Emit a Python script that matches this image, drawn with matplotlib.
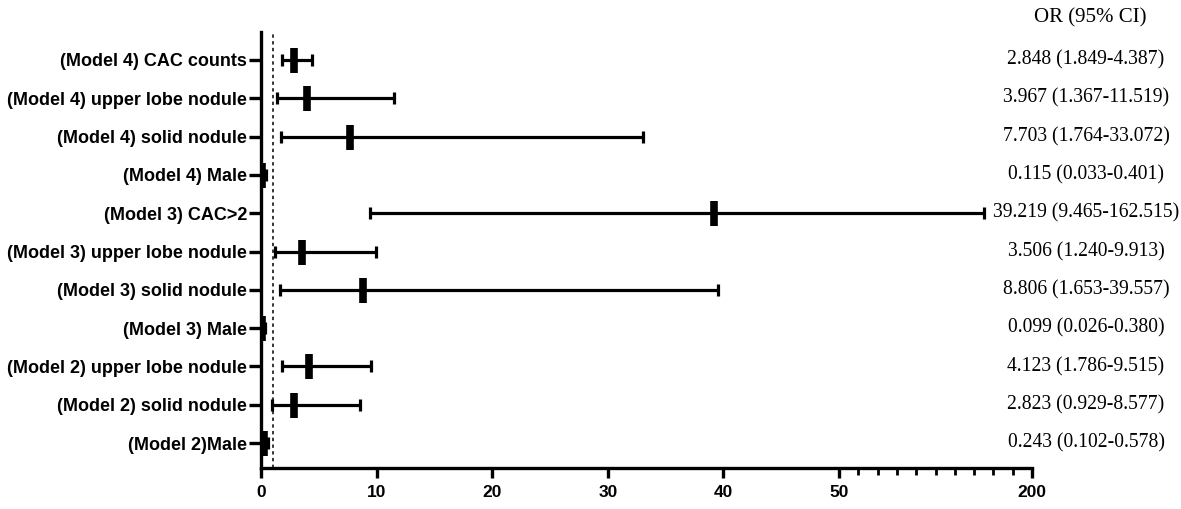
import numpy as np
import matplotlib
matplotlib.use("Agg")
import matplotlib.pyplot as plt
from matplotlib.ticker import FixedLocator, FixedFormatter

labels = ["(Model 4) CAC counts", "(Model 4) upper lobe nodule", "(Model 4) solid nodule",
          "(Model 4) Male", "(Model 3) CAC>2", "(Model 3) upper lobe nodule",
          "(Model 3) solid nodule", "(Model 3) Male", "(Model 2) upper lobe nodule",
          "(Model 2) solid nodule", "(Model 2)Male"]
or_vals = [2.848, 3.967, 7.703, 0.115, 39.219, 3.506, 8.806, 0.099, 4.123, 2.823, 0.243]
ci_low = [1.849, 1.367, 1.764, 0.033, 9.465, 1.240, 1.653, 0.026, 1.786, 0.929, 0.102]
ci_high = [4.387, 11.519, 33.072, 0.401, 162.515, 9.913, 39.557, 0.380, 9.515, 8.577, 0.578]
ci_text = ["2.848 (1.849-4.387)", "3.967 (1.367-11.519)", "7.703 (1.764-33.072)",
           "0.115 (0.033-0.401)", "39.219 (9.465-162.515)", "3.506 (1.240-9.913)",
           "8.806 (1.653-39.557)", "0.099 (0.026-0.380)", "4.123 (1.786-9.515)",
           "2.823 (0.929-8.577)", "0.243 (0.102-0.578)"]
major_ticks = [0, 10, 20, 30, 40, 50, 200]
minor_ticks = [65, 80, 95, 110, 125, 140, 155, 170, 185]

BREAK = 50.0
K = 0.1113

def fwd(x):
    x = np.asarray(x, dtype=float)
    return np.where(x <= BREAK, x, BREAK + (x - BREAK) * K)

def inv(y):
    y = np.asarray(y, dtype=float)
    return np.where(y <= BREAK, y, BREAK + (y - BREAK) / K)

W, H = 1181, 509
fig = plt.figure(figsize=(W / 100, H / 100), dpi=100)
ax = fig.add_axes([261 / W, 1 - 468 / H, (1032 - 261) / W, (468 - 32) / H])
ax.set_xscale("function", functions=(fwd, inv))

n = len(labels)
ypos = np.arange(n)[::-1]
lw = 2.3
ax.axvline(1, color="black", lw=1.1, ls=(0, (2.2, 2.2)), zorder=1)

xerr = [np.array(or_vals) - np.array(ci_low), np.array(ci_high) - np.array(or_vals)]
ax.errorbar(or_vals, ypos, xerr=xerr, fmt="none", ecolor="black", elinewidth=lw,
            capsize=4.5, capthick=lw, zorder=2)
ax.plot(or_vals, ypos, ls="none", marker="|", markersize=18, markeredgewidth=5.5,
        color="black", zorder=3)

ax.set_xlim(0, 200)
ax.set_ylim(-0.65, n - 1 + 0.73)
ax.xaxis.set_major_locator(FixedLocator(major_ticks))
ax.xaxis.set_major_formatter(FixedFormatter([str(t) for t in major_ticks]))
ax.xaxis.set_minor_locator(FixedLocator(minor_ticks))
ax.set_yticks(ypos)
ax.set_yticklabels(labels)

for s in ["top", "right"]:
    ax.spines[s].set_visible(False)
for s in ["left", "bottom"]:
    ax.spines[s].set_linewidth(2.4)

ax.tick_params(axis="y", length=9, width=2.4, pad=1)
ax.tick_params(axis="x", which="major", length=7, width=2.4, pad=5)
ax.tick_params(axis="x", which="minor", length=5, width=2.0)
for t in ax.get_yticklabels():
    t.set_fontfamily("Liberation Sans")
    t.set_fontweight("bold")
    t.set_fontsize(13)
for t in ax.get_xticklabels():
    t.set_fontfamily("Liberation Sans")
    t.set_fontweight("bold")
    t.set_fontsize(12.5)

# right-hand OR text
trans = matplotlib.transforms.blended_transform_factory(fig.transFigure, ax.transData)
for y, txt in zip(ypos, ci_text):
    ax.text(1086 / W, y, txt, transform=trans, ha="center", va="center",
            fontfamily="Liberation Serif", fontsize=14.1, clip_on=False)
fig.text(1090 / W, 1 - 18 / H, "OR (95% CI)", ha="center", va="center",
         fontfamily="Liberation Serif", fontsize=15.0)

fig.savefig("out.png", dpi=100)
